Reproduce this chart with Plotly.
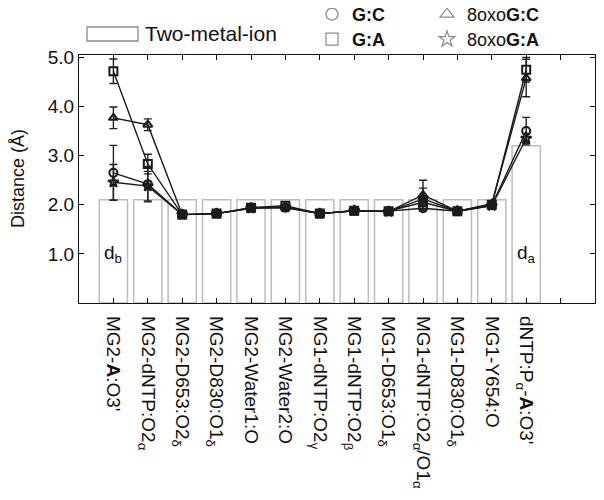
import plotly.graph_objects as go

categories = [
    "MG2-<b>A</b>:O3'", "MG2-dNTP:O2<sub>α</sub>", "MG2-D653:O2<sub>δ</sub>",
    "MG2-D830:O1<sub>δ</sub>", "MG2-Water1:O", "MG2-Water2:O",
    "MG1-dNTP:O2<sub>γ</sub>", "MG1-dNTP:O2<sub>β</sub>", "MG1-D653:O1<sub>δ</sub>",
    "MG1-dNTP:O2<sub>α</sub>/O1<sub>α</sub>", "MG1-D830:O1<sub>δ</sub>", "MG1-Y654:O",
    "dNTP:P<sub>α</sub>-<b>A</b>:O3'",
]
two_metal_ion = [2.1, 2.1, 2.1, 2.1, 2.1, 2.1, 2.1, 2.1, 2.1, 2.1, 2.1, 2.1, 3.2]

gc = [2.65, 2.42, 1.80, 1.82, 1.94, 1.94, 1.82, 1.88, 1.87, 1.93, 1.87, 1.99, 3.50]
gc_err = [0.56, 0.36, 0.03, 0.02, 0.03, 0.03, 0.02, 0.03, 0.03, 0.05, 0.02, 0.03, 0.28]
ga = [4.72, 2.83, 1.80, 1.82, 1.94, 1.98, 1.82, 1.88, 1.87, 2.05, 1.87, 2.00, 4.75]
ga_err = [0.25, 0.20, 0.03, 0.02, 0.03, 0.03, 0.02, 0.03, 0.03, 0.08, 0.02, 0.04, 0.25]
oxo_gc = [3.77, 3.63, 1.80, 1.82, 1.93, 1.95, 1.82, 1.88, 1.86, 2.20, 1.87, 2.02, 4.58]
oxo_gc_err = [0.22, 0.12, 0.03, 0.02, 0.03, 0.03, 0.02, 0.03, 0.03, 0.30, 0.02, 0.04, 0.38]
oxo_ga = [2.46, 2.38, 1.80, 1.82, 1.93, 1.95, 1.82, 1.88, 1.86, 2.12, 1.87, 1.98, 3.35]
oxo_ga_err = [0.36, 0.30, 0.03, 0.02, 0.03, 0.03, 0.02, 0.03, 0.03, 0.22, 0.02, 0.03, 0.10]

series = [
    ("<b>G:C</b>", gc, gc_err, "circle-open", "legend"),
    ("<b>G:A</b>", ga, ga_err, "square-open", "legend2"),
    ("8oxo<b>G:C</b>", oxo_gc, oxo_gc_err, "triangle-up-open", "legend3"),
    ("8oxo<b>G:A</b>", oxo_ga, oxo_ga_err, "star-open", "legend4"),
]

x = list(range(len(categories)))
FONT = "Liberation Sans, Arial, sans-serif"
W, H = 596, 492   # page body adds an 8 px offset
L, T, PW, PH = 71, 47, 516, 248

fig = go.Figure()
fig.add_trace(go.Bar(
    x=x, y=two_metal_ion, width=0.82, name="Two-metal-ion",
    marker=dict(color="white", line=dict(color="#bdbdbd", width=1.5)),
    showlegend=False,
))

for name, vals, errs, sym, lg in series:
    fig.add_trace(go.Scatter(
        x=x, y=vals, mode="lines+markers", name=name, showlegend=False,
        line=dict(color="#1a1a1a", width=1.4),
        marker=dict(symbol=sym, size=8, color="#1a1a1a", line=dict(width=2)),
        error_y=dict(type="data", array=errs, visible=True, color="#222",
                     thickness=1.4, width=4),
    ))

for name, vals, errs, sym, lg in series:
    fig.add_trace(go.Scatter(
        x=[None], y=[None], mode="markers", name=name, legend=lg,
        marker=dict(symbol=sym, size=12, color="#8a8a8a", line=dict(width=1.2)),
    ))


def leg(px_left, row_center):
    # legend top sits ~19 px above the first row centre
    return dict(x=(px_left - L) / PW, y=1 + (T - row_center + 19) / PH,
                xanchor="left", yanchor="top",
                font=dict(size=18, family=FONT), bgcolor="rgba(0,0,0,0)",
                itemwidth=30)


fig.update_layout(
    width=W, height=H,
    margin=dict(l=L, r=W - L - PW, t=T, b=H - T - PH, autoexpand=False),
    plot_bgcolor="white", paper_bgcolor="white",
    font=dict(family=FONT, color="#111", size=18),
    legend=leg(304, 7),
    legend2=leg(304, 32),
    legend3=leg(419, 7),
    legend4=leg(419, 32),
)

fig.update_xaxes(
    range=[-1, 14], tickmode="array", tickvals=x + [13], ticktext=categories + [""],
    tickangle=90, ticks="inside", ticklen=5, tickcolor="#111",
    showline=True, linecolor="#111", linewidth=1.3, mirror="ticks",
    showgrid=False, zeroline=False, tickfont=dict(size=19, family=FONT),
    ticklabelstandoff=8,
)
fig.update_yaxes(
    range=[0, 5.05], tickmode="array", tickvals=[1, 2, 3, 4, 5],
    ticktext=["1.0", "2.0", "3.0", "4.0", "5.0"],
    ticks="inside", ticklen=5, tickcolor="#111",
    showline=True, linecolor="#111", linewidth=1.3, mirror="ticks",
    showgrid=False, zeroline=False, tickfont=dict(size=19, family=FONT),
)

# y-axis title
fig.add_annotation(xref="paper", yref="paper", x=(10 - L) / PW, y=0.5,
                   xanchor="center", yanchor="middle", textangle=-90, showarrow=False,
                   text="Distance (Å)", font=dict(size=18, family=FONT, color="#111"))

# Bar legend (wide box + label)
fig.add_shape(type="rect", xref="paper", yref="paper",
              x0=(87 - 79) / PW, x1=(138 - 79) / PW,
              y0=1 + (55 - 41) / PH, y1=1 + (55 - 27) / PH,
              line=dict(color="#8a8a8a", width=1.3), fillcolor="white")
fig.add_annotation(xref="paper", yref="paper", x=(143 - 79) / PW, y=1 + (55 - 34) / PH,
                   xanchor="left", yanchor="middle", showarrow=False,
                   text="Two-metal-ion", font=dict(size=21, family=FONT, color="#111"))

fig.add_annotation(x=0, y=1.0, text="d<sub>b</sub>", showarrow=False,
                   font=dict(size=19, family=FONT, color="#111"))
fig.add_annotation(x=12, y=1.0, text="d<sub>a</sub>", showarrow=False,
                   font=dict(size=19, family=FONT, color="#111"))

fig.write_html("out.html")
